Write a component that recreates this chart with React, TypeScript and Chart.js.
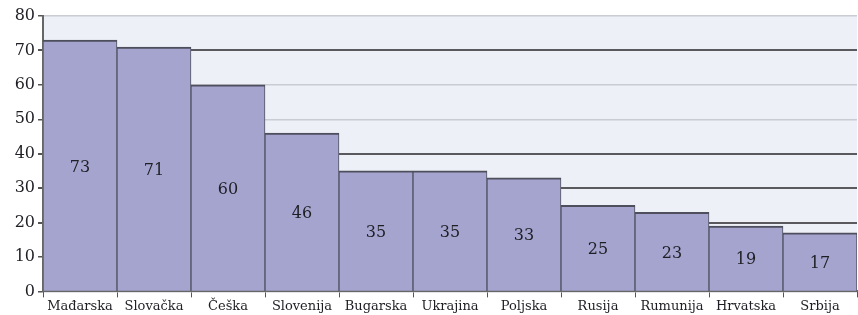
import React, { useEffect, useRef } from "react";
import { Chart, registerables } from "chart.js";

Chart.register(...registerables);

const categories = ["Mađarska", "Slovačka", "Češka", "Slovenija", "Bugarska", "Ukrajina", "Poljska", "Rusija", "Rumunija", "Hrvatska", "Srbija"];
const values = [73, 71, 60, 46, 35, 35, 33, 25, 23, 19, 17];
const yTicks = [0, 10, 20, 30, 40, 50, 60, 70, 80];
const darkGridValues = [70, 40, 30, 20];

const FONT = "'DejaVu Serif', 'Liberation Serif', serif";

const bgPlugin = {
  id: "bgPlugin",
  beforeDraw(chart: any) {
    const { ctx, chartArea } = chart;
    if (!chartArea) return;
    ctx.save();
    ctx.fillStyle = "#edf1f7";
    ctx.fillRect(chartArea.left, chartArea.top, chartArea.right - chartArea.left, chartArea.bottom - chartArea.top);
    ctx.restore();
  },
};

const valueLabels = {
  id: "valueLabels",
  afterDatasetsDraw(chart: any) {
    const { ctx } = chart;
    const meta = chart.getDatasetMeta(0);
    ctx.save();
    ctx.fillStyle = "#1e1e24";
    ctx.font = `16px ${FONT}`;
    ctx.textAlign = "center";
    ctx.textBaseline = "middle";
    meta.data.forEach((bar: any, i: number) => {
      const y = (bar.y + bar.base) / 2 + 2;
      ctx.fillText(String(values[i]), bar.x, y);
    });
    ctx.restore();
  },
};

export default function App() {
  const ref = useRef<HTMLCanvasElement>(null);
  useEffect(() => {
    document.body.style.margin = "0";
    const chart = new Chart(ref.current!, {
      type: "bar",
      data: {
        labels: categories,
        datasets: [
          {
            data: values,
            backgroundColor: "#a4a4cf",
            borderColor: "#4e4e5c",
            borderWidth: { top: 2, left: 1, right: 1, bottom: 0 },
            borderSkipped: false,
            categoryPercentage: 1,
            barPercentage: 1,
          },
        ],
      },
      options: {
        animation: false,
        responsive: false,
        maintainAspectRatio: false,
        layout: { padding: { top: 16, right: 1, left: 0, bottom: 0 } },
        plugins: { legend: { display: false }, tooltip: { enabled: false } },
        scales: {
          x: {
            offset: true,
            grid: {
              offset: true,
              drawOnChartArea: false,
              drawTicks: true,
              tickLength: 6,
              color: "#555",
            },
            border: { color: "#666", width: 2 },
            ticks: {
              color: "#1e1e24",
              font: { family: FONT, size: 13 },
              padding: 1,
              maxRotation: 0,
              autoSkip: false,
            },
          },
          y: {
            min: 0,
            max: 80,
            afterFit(scale: any) {
              scale.width = 43;
            },
            afterBuildTicks(scale: any) {
              scale.ticks = yTicks.map((v) => ({ value: v }));
            },
            grid: {
              color: (c: any) => (darkGridValues.includes(c.tick?.value) ? "#5a5a5e" : "#c9ccd2"),
              lineWidth: (c: any) => (darkGridValues.includes(c.tick?.value) ? 2 : 1.5),
              tickLength: 5,
              tickColor: "#555",
            },
            border: { color: "#666", width: 2 },
            ticks: {
              color: "#1e1e24",
              font: { family: FONT, size: 16 },
              padding: 3,
            },
          },
        },
      },
      plugins: [bgPlugin, valueLabels],
    });
    return () => chart.destroy();
  }, []);
  return <canvas ref={ref} width={858} height={315} style={{ display: "block" }} />;
}
